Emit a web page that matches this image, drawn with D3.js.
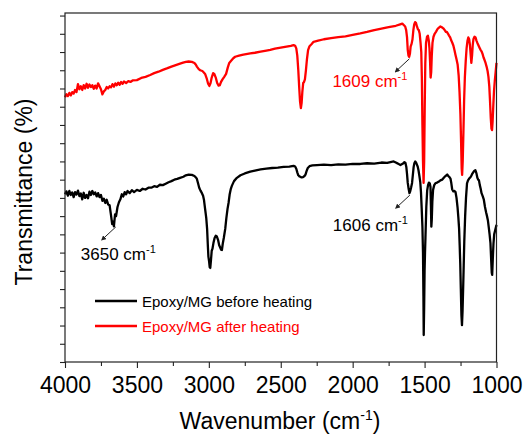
<!DOCTYPE html>
<html>
<head>
<meta charset="utf-8">
<title>FTIR Epoxy/MG</title>
<script type="text/javascript" src="https://d3js.org/d3.v7.min.js"></script>
<style>
	body { margin: 0; background: #fff; }
	text { font-family: "Liberation Sans", Arial, sans-serif; }
</style>
</head>
<body>
<div class="chart-container"></div>

<script type="text/javascript">
// wavenumber (cm-1) ticks
var xMajorTicks = [4000, 3500, 3000, 2500, 2000, 1500, 1000];
var xMinorTicks = [3750, 3250, 2750, 2250, 1750, 1250];

// [wavenumber, transmittance]
var beforeHeating = [
	[4000,46.0],[3990,46.8],[3980,45.6],[3970,46.9],[3960,45.8],[3950,46.5],[3940,45.2],[3930,46.6],
	[3920,45.9],[3910,47.0],[3900,45.5],[3890,46.2],[3880,44.6],[3870,46.4],[3860,45.0],[3850,45.8],
	[3840,44.9],[3830,46.7],[3820,45.8],[3810,46.9],[3800,46.0],[3790,46.5],[3780,45.4],[3770,46.3],
	[3760,45.2],[3750,45.8],[3740,44.2],[3730,44.8],[3720,43.6],[3710,44.5],[3700,43.2],[3690,43.0],
	[3680,40.2],[3672,37.8],[3665,38.5],[3660,37.2],[3652,40.5],[3645,40.0],[3635,42.5],[3625,43.8],
	[3615,44.6],[3605,46.0],[3595,45.4],[3585,46.6],[3575,46.0],[3565,46.9],[3550,46.3],[3535,47.1],
	[3520,46.6],[3500,47.2],[3480,46.9],[3460,47.5],[3440,47.3],[3420,47.8],[3400,47.8],[3380,48.2],
	[3360,48.0],[3340,48.6],[3320,48.5],[3300,48.9],[3280,49.3],[3260,49.6],[3240,50.0],[3220,50.2],
	[3200,50.5],[3177,50.8],[3160,51.2],[3140,51.4],[3118,51.3],[3100,51.0],[3090,50.6],[3083,50.2],
	[3075,49.0],[3067,47.8],[3058,47.0],[3048,46.3],[3040,45.6],[3034,44.5],[3026,42.0],[3018,39.5],
	[3012,36.5],[3007,32.0],[3003,28.9],[2998,27.5],[2994,26.0],[2990,25.8],[2985,28.0],[2980,30.5],
	[2975,31.0],[2968,32.6],[2960,34.0],[2952,34.6],[2944,34.4],[2936,33.5],[2928,32.0],[2921,31.4],
	[2915,30.8],[2909,30.7],[2903,32.5],[2896,34.0],[2886,36.5],[2878,39.5],[2870,42.0],[2863,43.6],
	[2855,46.0],[2847,47.5],[2840,48.3],[2825,49.6],[2805,50.5],[2780,51.2],[2750,51.7],[2712,52.2],
	[2680,52.5],[2640,52.8],[2600,53.0],[2560,53.2],[2520,53.3],[2480,53.5],[2440,53.6],[2411,53.8],
	[2400,53.6],[2392,53.0],[2385,52.0],[2378,51.2],[2370,50.9],[2364,50.8],[2355,50.6],[2345,50.7],
	[2335,51.0],[2328,51.4],[2320,52.4],[2312,53.2],[2300,53.7],[2280,53.9],[2248,54.0],[2200,54.1],
	[2150,54.0],[2100,54.2],[2050,54.1],[2000,54.3],[1947,54.3],[1900,54.5],[1850,54.4],[1800,54.7],
	[1760,54.6],[1730,54.9],[1715,55.0],[1700,54.7],[1685,54.4],[1668,54.0],[1650,54.4],[1640,54.8],
	[1633,54.6],[1627,53.5],[1622,51.5],[1617,49.1],[1611,47.5],[1605,46.3],[1600,46.8],[1594,47.8],
	[1587,49.1],[1581,51.5],[1576,53.5],[1571,54.5],[1565,55.0],[1558,54.6],[1552,54.0],[1548,53.6],
	[1542,52.5],[1536,51.0],[1530,49.3],[1525,46.5],[1520,42.0],[1515,37.0],[1511,30.0],[1508,18.0],
	[1506,7.4],[1503,15.0],[1500,25.0],[1497,30.0],[1494,34.0],[1488,42.5],[1482,47.0],[1476,48.5],
	[1470,49.2],[1464,49.0],[1459,48.0],[1456,43.0],[1453,37.1],[1450,39.0],[1446,44.0],[1441,47.2],
	[1433,48.5],[1425,49.0],[1413,49.2],[1400,49.5],[1390,49.8],[1378,50.0],[1365,50.6],[1355,51.0],
	[1343,51.4],[1335,51.0],[1327,50.7],[1320,50.3],[1314,49.0],[1308,47.3],[1300,46.8],[1292,46.9],
	[1285,46.6],[1278,45.0],[1271,42.5],[1265,39.5],[1260,36.5],[1256,32.0],[1252,27.0],[1248,20.0],
	[1244,13.0],[1240,10.1],[1236,14.0],[1232,20.0],[1228,26.5],[1224,33.0],[1218,40.0],[1212,45.0],
	[1205,49.0],[1198,49.8],[1190,50.3],[1183,50.6],[1177,50.9],[1170,51.5],[1162,52.0],[1155,52.4],
	[1147,52.6],[1140,51.8],[1133,50.5],[1127,50.0],[1122,49.8],[1116,48.5],[1110,47.5],[1104,46.3],
	[1096,45.5],[1088,44.5],[1080,42.5],[1072,41.0],[1066,40.0],[1060,38.9],[1054,37.0],[1048,35.0],
	[1042,32.6],[1037,28.0],[1033,24.5],[1030,23.9],[1026,28.0],[1021,32.5],[1016,35.0],[1010,36.0],
	[1005,36.8],[1000,37.6]
];

var afterHeating = [
	[4000,72.6],[3990,73.4],[3980,72.9],[3970,73.8],[3960,73.1],[3950,74.0],[3940,73.6],[3930,74.6],
	[3920,74.0],[3910,76.2],[3900,74.8],[3890,75.6],[3880,74.6],[3870,75.9],[3860,75.0],[3850,76.3],
	[3840,75.2],[3830,76.1],[3820,75.4],[3810,75.9],[3800,74.9],[3790,75.8],[3780,75.0],[3770,76.4],
	[3760,75.6],[3750,74.8],[3740,73.4],[3730,74.2],[3720,74.6],[3710,75.4],[3700,75.0],[3690,75.6],
	[3680,75.3],[3670,76.2],[3660,75.5],[3650,76.4],[3640,75.9],[3630,76.6],[3620,76.0],[3610,76.8],
	[3600,76.3],[3590,76.9],[3575,76.5],[3560,77.0],[3545,76.8],[3530,77.2],[3500,77.3],[3470,77.9],
	[3440,78.2],[3408,78.7],[3380,79.2],[3350,79.6],[3320,80.1],[3292,80.5],[3260,81.0],[3230,81.4],
	[3200,81.8],[3179,82.1],[3160,82.3],[3140,82.4],[3118,82.3],[3100,82.0],[3090,81.5],[3083,81.0],
	[3070,80.3],[3060,80.0],[3045,79.8],[3035,79.4],[3026,79.0],[3015,77.8],[3005,76.3],[2996,75.7],
	[2988,76.5],[2980,78.0],[2970,79.2],[2962,79.0],[2952,78.0],[2942,76.5],[2932,75.8],[2924,75.9],
	[2915,76.8],[2905,77.5],[2893,78.2],[2880,79.0],[2868,80.8],[2858,82.0],[2845,82.6],[2830,83.3],
	[2817,83.7],[2790,84.0],[2760,84.3],[2712,84.6],[2680,84.8],[2640,85.1],[2600,85.4],[2573,85.6],
	[2540,85.9],[2500,86.2],[2460,86.5],[2430,86.7],[2411,86.9],[2400,86.7],[2392,86.0],[2385,84.0],
	[2378,80.0],[2372,75.5],[2366,71.5],[2360,69.6],[2355,71.0],[2350,74.0],[2344,76.5],[2338,76.8],
	[2332,77.5],[2325,80.0],[2318,83.0],[2310,85.5],[2300,86.6],[2285,87.2],[2272,87.8],[2240,88.1],
	[2200,88.5],[2150,88.8],[2100,89.1],[2050,89.3],[2000,89.7],[1947,90.1],[1900,90.5],[1850,91.0],
	[1800,91.4],[1750,91.8],[1700,92.2],[1670,92.6],[1655,92.8],[1645,92.4],[1635,92.0],[1628,91.0],
	[1622,89.0],[1617,85.5],[1612,84.0],[1607,83.7],[1602,84.5],[1597,86.5],[1590,87.3],[1584,88.5],
	[1578,91.0],[1572,92.6],[1566,93.2],[1560,93.0],[1553,92.0],[1546,91.2],[1540,91.0],[1534,90.0],
	[1528,87.5],[1523,85.0],[1519,78.0],[1515,65.0],[1511,55.0],[1507,49.1],[1503,55.0],[1499,70.0],
	[1495,82.0],[1490,87.5],[1483,89.2],[1477,89.5],[1471,88.2],[1466,86.0],[1462,82.5],[1458,78.0],
	[1454,79.5],[1450,84.0],[1445,87.5],[1438,89.2],[1430,90.0],[1420,90.6],[1410,91.3],[1400,91.7],
	[1390,92.0],[1380,91.8],[1370,91.5],[1360,91.0],[1352,90.5],[1345,90.5],[1337,90.0],[1330,89.5],
	[1322,89.0],[1315,88.2],[1308,87.6],[1300,86.8],[1292,85.5],[1285,84.2],[1278,83.0],[1270,81.5],
	[1263,78.5],[1257,74.0],[1251,68.0],[1246,60.0],[1242,53.0],[1239,51.3],[1235,55.0],[1230,63.0],
	[1225,72.0],[1220,78.0],[1214,82.5],[1208,86.0],[1202,88.0],[1196,89.0],[1190,88.5],[1185,87.0],
	[1180,84.5],[1175,82.0],[1170,84.0],[1165,87.0],[1160,88.6],[1153,89.2],[1146,89.0],[1140,88.2],
	[1133,87.5],[1125,86.8],[1118,86.2],[1111,85.6],[1104,85.2],[1097,84.5],[1090,83.5],[1083,82.8],
	[1076,82.0],[1069,81.0],[1062,79.8],[1056,78.2],[1050,75.5],[1045,71.5],[1040,67.0],[1035,64.0],
	[1031,63.6],[1027,66.0],[1022,70.5],[1017,74.5],[1012,77.0],[1006,79.5],[1000,82.0]
];

var seriesNames = ["Epoxy/MG before heating", "Epoxy/MG after heating"];
var seriesColors = ["#000000", "#ff0000"];

// peak labels: wavenumber, transmittance at the arrow tail, series index
var peakWavenumbers = [3650, 1609, 1606];
var peakValues = [37.6, 83.7, 46.3];
var peakSeries = [0, 1, 0];

var width = 527, height = 437;
var margin = {top: 13, right: 30.5, bottom: 75, left: 65};

var svg = d3.select(".chart-container").append("svg")
	.attr("width", width)
	.attr("height", height);

var x = d3.scaleLinear().domain([4000, 1000]).range([margin.left, width - margin.right]);
var y = d3.scaleLinear().domain([0, 95.7]).range([height - margin.bottom, margin.top]);

var line = d3.line()
	.x(function(d) { return x(d[0]); })
	.y(function(d) { return y(d[1]); });

// spectra (black first, red drawn on top)
[beforeHeating, afterHeating].forEach(function(data, i) {
	svg.append("path")
		.datum(data)
		.attr("fill", "none")
		.attr("stroke", seriesColors[i])
		.attr("stroke-width", 2.3)
		.attr("stroke-linejoin", "round")
		.attr("d", line);
});

// axes
var xAxis = svg.append("g")
	.attr("transform", "translate(0," + y.range()[0] + ")")
	.call(d3.axisBottom(x).tickValues(xMajorTicks).tickSize(6).tickPadding(9).tickFormat(d3.format("d")));
svg.append("g")
	.attr("transform", "translate(0," + y.range()[0] + ")")
	.call(d3.axisBottom(x).tickValues(xMinorTicks).tickSize(4).tickFormat(""));
svg.append("g")
	.attr("transform", "translate(" + x.range()[0] + ",0)")
	.call(d3.axisLeft(y).tickValues(d3.range(0, 96, 5)).tickSize(5).tickFormat(""));

svg.selectAll(".domain").remove();
svg.selectAll(".tick line").attr("stroke", "#222").attr("stroke-width", 1.1);
xAxis.selectAll("text")
	.attr("fill", "#000")
	.style("font-size", "23px");

// frame
svg.append("rect")
	.attr("x", x.range()[0])
	.attr("y", y.range()[1])
	.attr("width", x.range()[1] - x.range()[0])
	.attr("height", y.range()[0] - y.range()[1])
	.attr("fill", "none")
	.attr("stroke", "#222")
	.attr("stroke-width", 1.2);

// axis titles
var xTitle = svg.append("text")
	.attr("x", 280)
	.attr("y", 429)
	.attr("text-anchor", "middle")
	.style("font-size", "23px");
xTitle.append("tspan").text("Wavenumber (cm");
xTitle.append("tspan").attr("dy", -9).style("font-size", "14px").text("-1");
xTitle.append("tspan").attr("dy", 9).text(")");

svg.append("text")
	.attr("transform", "translate(32,192) rotate(-90)")
	.attr("text-anchor", "middle")
	.style("font-size", "23px")
	.text("Transmittance (%)");

// peak annotations
var labelOffsets = [
	{textX: -35, textY: 33, anchor: "start"},
	{textX: -2, textY: 28, anchor: "end"},
	{textX: -2, textY: 36, anchor: "end"}
];

svg.append("defs").append("marker")
	.attr("id", "arrowhead")
	.attr("viewBox", "0 0 10 10")
	.attr("refX", 8)
	.attr("refY", 5)
	.attr("markerWidth", 5)
	.attr("markerHeight", 5)
	.attr("orient", "auto")
	.append("path")
	.attr("d", "M0,0 L10,5 L0,10 z")
	.attr("fill", "#222");

peakWavenumbers.forEach(function(wn, i) {
	var px = x(wn) + 0.5, py = y(peakValues[i]) + 2;
	svg.append("line")
		.attr("x1", px)
		.attr("y1", py)
		.attr("x2", px - 14)
		.attr("y2", py + 13)
		.attr("stroke", "#222")
		.attr("stroke-width", 1)
		.attr("marker-end", "url(#arrowhead)");

	var t = svg.append("text")
		.attr("x", px + labelOffsets[i].textX)
		.attr("y", py + labelOffsets[i].textY)
		.attr("text-anchor", labelOffsets[i].anchor)
		.attr("fill", seriesColors[peakSeries[i]])
		.style("font-size", "17px");
	t.append("tspan").text(wn + " cm");
	t.append("tspan").attr("dy", -7).style("font-size", "11px").text("-1");
});

// legend
seriesNames.forEach(function(name, i) {
	var ly = 301 + i * 25;
	svg.append("line")
		.attr("x1", 95).attr("x2", 137)
		.attr("y1", ly).attr("y2", ly)
		.attr("stroke", seriesColors[i])
		.attr("stroke-width", 2.3);
	svg.append("text")
		.attr("x", 142)
		.attr("y", ly + 5.5)
		.attr("fill", seriesColors[i])
		.style("font-size", "15px")
		.text(name);
});
</script>
</body>
</html>
